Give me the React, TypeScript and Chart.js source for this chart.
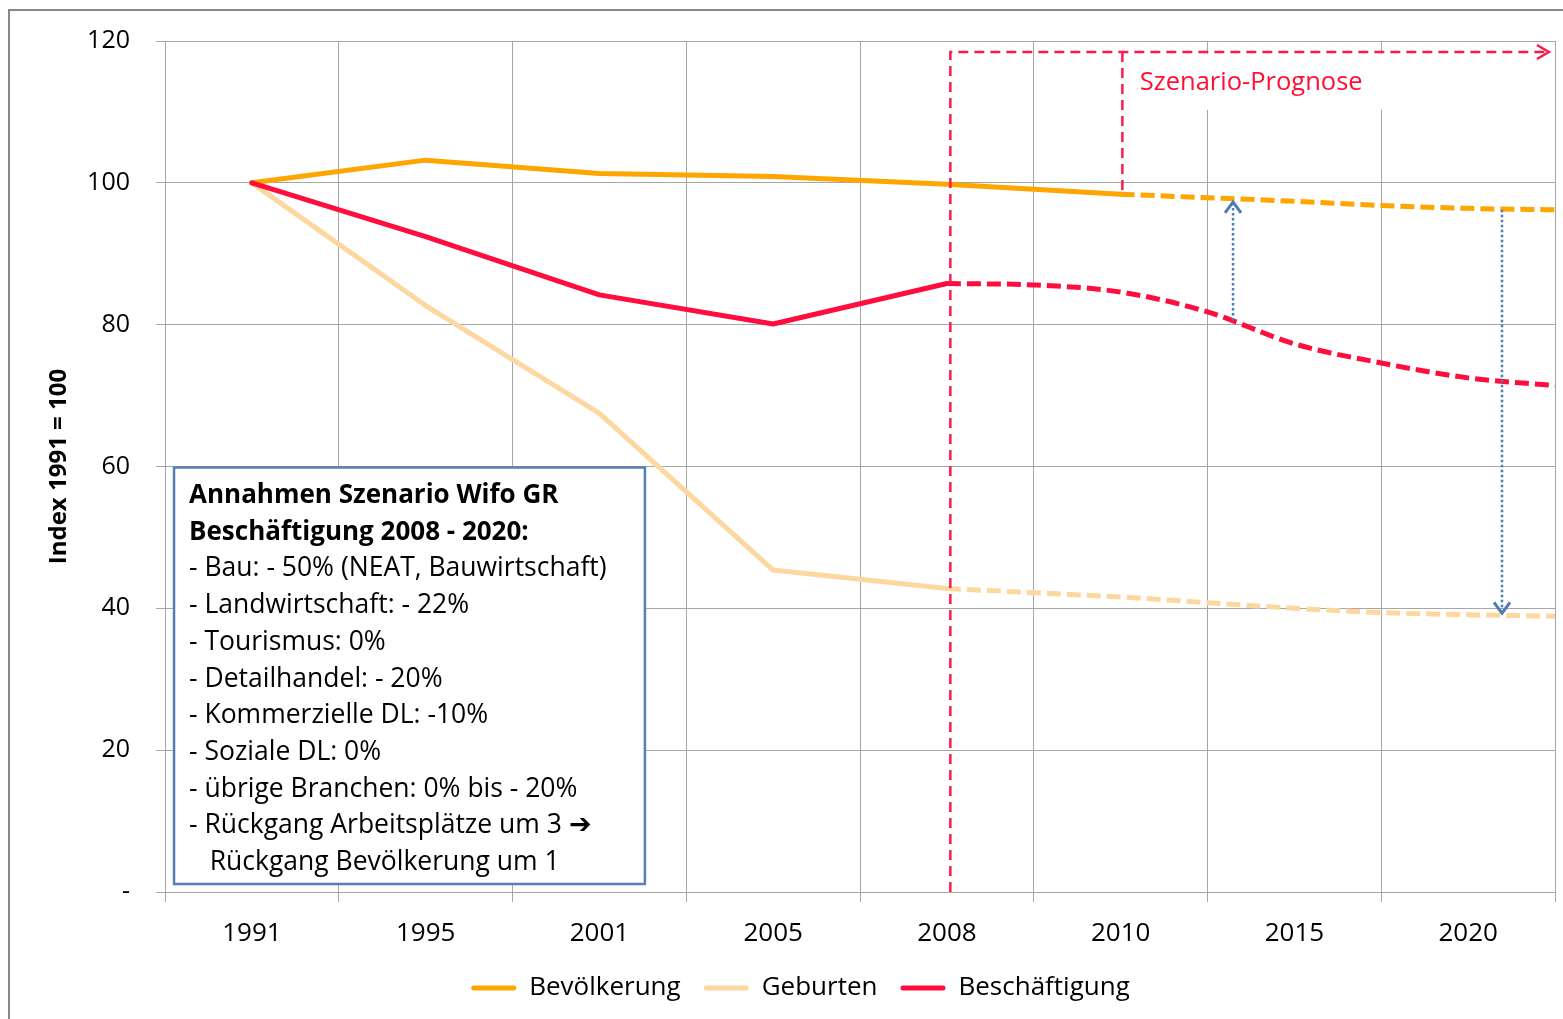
import React, { useEffect, useRef } from 'react';
import { Chart, registerables } from 'chart.js';

Chart.register(...registerables);

// ---------- data ----------
const categories = ['1991', '1995', '2001', '2005', '2008', '2010', '2015', '2020'];
const seriesNames = ['Bevölkerung', 'Geburten', 'Beschäftigung'];
const seriesColors = ['#FFA500', '#FCD8A0', '#FF0D3F'];

// x values are category positions (0 = 1991 ... 7 = 2020)
const bevoelkerungHistX = [0, 1, 2, 3, 4, 5];
const bevoelkerungHist = [100, 103.2, 101.3, 100.9, 99.8, 98.4];
const bevoelkerungProgX = [5, 5.5, 6, 6.5, 7, 7.5];
const bevoelkerungProg = [98.4, 97.9, 97.4, 96.8, 96.4, 96.2];

const geburtenHistX = [0, 1, 2, 3, 4];
const geburtenHist = [100, 82.7, 67.5, 45.4, 42.8];
const geburtenProgX = [4, 4.5, 5, 5.5, 6, 6.5, 7, 7.5];
const geburtenProg = [42.8, 42.2, 41.6, 40.8, 40.0, 39.4, 39.1, 38.9];

const beschaeftigungHistX = [0, 1, 2, 3, 4];
const beschaeftigungHist = [100, 92.4, 84.2, 80.1, 85.8];
const beschaeftigungProgX = [4, 4.5, 5, 5.5, 6, 6.5, 7, 7.5];
const beschaeftigungProg = [85.8, 85.6, 84.6, 81.8, 77.3, 74.6, 72.5, 71.4];

const yTickValues = [0, 20, 40, 60, 80, 100, 120];
const yTickLabels = ['-', '20', '40', '60', '80', '100', '120'];
const yAxisTitle = 'Index 1991 = 100';
const scenarioLabel = 'Szenario-Prognose';
const boxHeading = ['Annahmen Szenario Wifo GR', 'Beschäftigung 2008 - 2020:'];
const boxItems = [
  '- Bau: - 50% (NEAT, Bauwirtschaft)',
  '- Landwirtschaft: - 22%',
  '- Tourismus: 0%',
  '- Detailhandel: - 20%',
  '- Kommerzielle DL: -10%',
  '- Soziale DL: 0%',
  '- übrige Branchen: 0% bis - 20%',
  '- Rückgang Arbeitsplätze um 3 ➔',
  '   Rückgang Bevölkerung um 1',
];

// ---------- styling ----------
const FONT = "'Open Sans', sans-serif";
const GRID = '#A6A6A6';

const xTickValues: number[] = [];
for (let i = 0; i < categories.length; i++) {
  xTickValues.push(i - 0.5, i);
}
xTickValues.push(categories.length - 0.5);

const isGridTick = (v: number) => !Number.isInteger(v);

const annotationPlugin = {
  id: 'annotations',
  beforeDraw(chart: any) {
    const { ctx } = chart;
    ctx.save();
    ctx.strokeStyle = '#878787';
    ctx.lineWidth = 2;
    ctx.beginPath();
    ctx.moveTo(9, chart.height + 5);
    ctx.lineTo(9, 10);
    ctx.lineTo(chart.width + 5, 10);
    ctx.stroke();
    ctx.restore();
  },
  beforeDatasetsDraw(chart: any) {
    const { ctx } = chart;
    const xs = chart.scales.x;
    const ys = chart.scales.y;
    const px = (v: number) => xs.getPixelForValue(v);
    const py = (v: number) => ys.getPixelForValue(v);
    // white label area behind "Szenario-Prognose"
    ctx.save();
    ctx.fillStyle = '#FFFFFF';
    ctx.fillRect(px(5.05), py(118.2), px(7.49) - px(5.05), py(110.3) - py(118.2));
    ctx.restore();
  },
  afterDatasetsDraw(chart: any) {
    const { ctx } = chart;
    const xs = chart.scales.x;
    const ys = chart.scales.y;
    const px = (v: number) => xs.getPixelForValue(v);
    const py = (v: number) => ys.getPixelForValue(v);
    ctx.save();

    // red dashed scenario frame
    ctx.strokeStyle = '#F71E4B';
    ctx.lineWidth = 2.5;
    ctx.setLineDash([10, 6]);
    ctx.beginPath();
    ctx.moveTo(px(4.02), py(0));
    ctx.lineTo(px(4.02), py(118.45));
    ctx.lineTo(px(7.465), py(118.45));
    ctx.stroke();
    ctx.beginPath();
    ctx.moveTo(px(5.01), py(118.45));
    ctx.lineTo(px(5.01), py(98.3));
    ctx.stroke();
    ctx.setLineDash([]);
    const tx = px(7.465);
    const ty = py(118.45);
    ctx.beginPath();
    ctx.moveTo(tx - 12, ty - 7);
    ctx.lineTo(tx, ty);
    ctx.lineTo(tx - 12, ty + 7);
    ctx.stroke();

    ctx.fillStyle = '#FF1035';
    ctx.font = `25.5px ${FONT}`;
    ctx.textBaseline = 'middle';
    ctx.textAlign = 'left';
    ctx.fillText(scenarioLabel, px(5.11), py(114.1));

    // blue dotted arrows
    ctx.strokeStyle = '#4A7DB5';
    ctx.lineWidth = 2.5;
    const upX = px(5.647);
    const upTip = py(97.3);
    ctx.setLineDash([2.5, 2.5]);
    ctx.beginPath();
    ctx.moveTo(upX, py(80.6));
    ctx.lineTo(upX, upTip + 3);
    ctx.stroke();
    ctx.setLineDash([]);
    ctx.lineWidth = 3;
    ctx.beginPath();
    ctx.moveTo(upX - 8, upTip + 11);
    ctx.lineTo(upX, upTip);
    ctx.lineTo(upX + 8, upTip + 11);
    ctx.stroke();

    const dnX = px(7.195);
    const dnTip = py(39.3);
    ctx.lineWidth = 2.5;
    ctx.setLineDash([2.5, 2.5]);
    ctx.beginPath();
    ctx.moveTo(dnX, py(96.2));
    ctx.lineTo(dnX, dnTip - 3);
    ctx.stroke();
    ctx.setLineDash([]);
    ctx.lineWidth = 3;
    ctx.beginPath();
    ctx.moveTo(dnX - 8, dnTip - 11);
    ctx.lineTo(dnX, dnTip);
    ctx.lineTo(dnX + 8, dnTip - 11);
    ctx.stroke();

    // text box
    const bx0 = px(-0.448);
    const bx1 = px(2.262);
    const by0 = py(59.86);
    const by1 = py(1.13);
    ctx.fillStyle = '#FFFFFF';
    ctx.fillRect(bx0, by0, bx1 - bx0, by1 - by0);
    ctx.strokeStyle = '#5580B4';
    ctx.lineWidth = 2.5;
    ctx.strokeRect(bx0, by0, bx1 - bx0, by1 - by0);
    ctx.fillStyle = '#000000';
    ctx.textBaseline = 'middle';
    let ly = by0 + 28;
    const lx = bx0 + 15;
    ctx.font = `bold 26px ${FONT}`;
    for (const t of boxHeading) {
      ctx.fillText(t, lx, ly);
      ly += 36.7;
    }
    ctx.font = `26.5px ${FONT}`;
    for (const t of boxItems) {
      ctx.fillText(t, lx, ly);
      ly += 36.7;
    }
    ctx.restore();
  },
};

function series(label: string, xsArr: number[], ysArr: number[], color: string, dashed: boolean, order: number) {
  return {
    label,
    data: xsArr.map((x, i) => ({ x, y: ysArr[i] })),
    borderColor: color,
    backgroundColor: color,
    borderWidth: 5,
    pointRadius: 0,
    pointHoverRadius: 0,
    borderDash: dashed ? [14, 6] : [],
    borderCapStyle: dashed ? 'butt' : 'round',
    borderJoinStyle: 'round',
    tension: 0,
    cubicInterpolationMode: dashed ? 'monotone' : 'default',
    fill: false,
    order,
  };
}

export default function App() {
  const ref = useRef<HTMLCanvasElement>(null);

  useEffect(() => {
    const canvas = ref.current;
    if (!canvas) return;

    const datasets: any[] = [
      series(seriesNames[0], bevoelkerungHistX, bevoelkerungHist, seriesColors[0], false, 1),
      series(seriesNames[0] + ' Prognose', bevoelkerungProgX, bevoelkerungProg, seriesColors[0], true, 1),
      series(seriesNames[1], geburtenHistX, geburtenHist, seriesColors[1], false, 2),
      series(seriesNames[1] + ' Prognose', geburtenProgX, geburtenProg, seriesColors[1], true, 2),
      series(seriesNames[2], beschaeftigungHistX, beschaeftigungHist, seriesColors[2], false, 0),
      series(seriesNames[2] + ' Prognose', beschaeftigungProgX, beschaeftigungProg, seriesColors[2], true, 0),
    ];

    const chart = new Chart(canvas, {
      type: 'line',
      data: { datasets },
      plugins: [annotationPlugin],
      options: {
        animation: false,
        responsive: true,
        maintainAspectRatio: false,
        events: [],
        layout: { padding: { top: 40, right: 8, bottom: 8, left: 46 } },
        scales: {
          x: {
            type: 'linear',
            min: -0.5,
            max: 7.5,
            afterBuildTicks: (s: any) => {
              s.ticks = xTickValues.map((v) => ({ value: v }));
            },
            afterFit: (s: any) => {
              s.height = 60;
            },
            ticks: {
              autoSkip: false,
              maxRotation: 0,
              minRotation: 0,
              padding: 0,
              color: '#000000',
              font: { family: FONT, size: 26, lineHeight: 2.46 },
              callback: (v: any) => (Number.isInteger(v) ? categories[v] ?? '' : ''),
            },
            grid: {
              color: (c: any) => (c.tick && isGridTick(c.tick.value) ? GRID : 'rgba(0,0,0,0)'),
              tickColor: (c: any) => (c.tick && isGridTick(c.tick.value) ? GRID : 'rgba(0,0,0,0)'),
              tickLength: 10,
              lineWidth: 1,
            },
            border: { display: true, color: GRID, width: 1 },
          },
          y: {
            type: 'linear',
            min: 0,
            max: 120,
            afterBuildTicks: (s: any) => {
              s.ticks = yTickValues.map((v) => ({ value: v }));
            },
            afterFit: (s: any) => {
              s.width = 119;
            },
            ticks: {
              padding: 26,
              color: '#000000',
              font: { family: FONT, size: 25 },
              callback: (v: any) => {
                const i = yTickValues.indexOf(v);
                return i >= 0 ? yTickLabels[i] : '';
              },
            },
            grid: { color: GRID, tickColor: GRID, tickLength: 9, lineWidth: 1 },
            border: { display: true, color: GRID, width: 1 },
            title: {
              display: true,
              text: yAxisTitle,
              color: '#000000',
              font: { family: FONT, size: 24, weight: 'bold' },
              padding: { top: -1.5, bottom: 0 },
            },
          },
        },
        plugins: {
          tooltip: { enabled: false },
          title: { display: false },
          legend: {
            display: true,
            position: 'bottom',
            labels: {
              boxWidth: 45,
              boxHeight: 5,
              padding: 23,
              color: '#000000',
              font: { family: FONT, size: 26 },
              generateLabels: () =>
                seriesNames.map((name, i) => ({
                  text: name,
                  fillStyle: seriesColors[i],
                  strokeStyle: seriesColors[i],
                  lineWidth: 0,
                  hidden: false,
                  datasetIndex: i * 2,
                  borderRadius: 2.5,
                  fontColor: '#000000',
                })),
            },
          },
        },
      } as any,
    });

    return () => {
      chart.destroy();
    };
  }, []);

  return (
    <div style={{ position: 'fixed', left: 0, top: 0, width: '1563px', height: '1019px', background: '#FFFFFF' }}>
      <canvas ref={ref} />
    </div>
  );
}
